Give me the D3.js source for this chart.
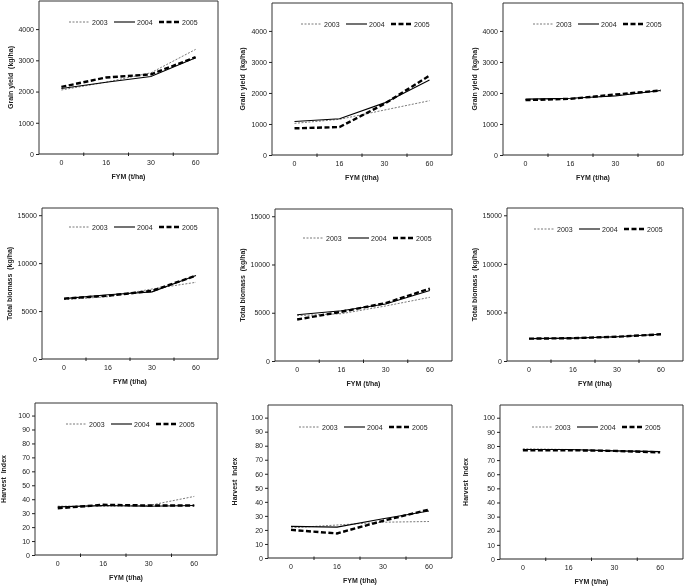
<!DOCTYPE html>
<html><head><meta charset="utf-8">
<script src="https://cdn.jsdelivr.net/npm/d3@7/dist/d3.min.js"></script>
<style>
body{margin:0;background:#fff;}
svg{will-change:transform;}
svg text{font-family:"Liberation Sans",Arial,sans-serif;white-space:pre;}
</style></head>
<body>
<svg id="c" width="685" height="587"></svg>
<script>
// ---- data ----
const categories = ["0","16","30","60"];
const years = ["2003","2004","2005"];
const yieldTicks = [0,1000,2000,3000,4000];
const biomassTicks = [0,5000,10000,15000];
const hiTicks = [0,10,20,30,40,50,60,70,80,90,100];

// rows per panel: [2003, 2004, 2005]
const grainYieldA = [[2050,2300,2600,3350],[2100,2300,2480,3080],[2150,2450,2550,3100]];
const grainYieldB = [[1020,1150,1450,1750],[1080,1170,1680,2420],[860,900,1650,2560]];
const grainYieldC = [[1780,1820,1920,2080],[1800,1830,1900,2080],[1770,1810,1950,2080]];
const biomassA = [[6200,6500,7300,8000],[6300,6700,7000,8700],[6300,6600,7100,8700]];
const biomassB = [[4700,4900,5700,6600],[4800,5200,5900,7300],[4300,5100,6000,7500]];
const biomassC = [[2300,2350,2500,2750],[2300,2350,2500,2750],[2300,2350,2500,2750]];
const harvestA = [[35,35,35.5,42],[34.5,35.5,35,35.5],[33.5,36,35.5,35.5]];
const harvestB = [[21.5,23.5,25.5,26],[22.5,22,28,33.5],[20,17.5,26.5,34.5]];
const harvestC = [[78,77.5,76.5,76],[77.5,77.5,76.5,76],[77,77,76.5,75.5]];

// ---- layout ----
const styles = [
  {w:0.8, dash:"2,1.5", c:"#555"},
  {w:1.1, dash:null, c:"#000"},
  {w:2.4, dash:"5,2.5", c:"#000"}
];
const panels = [
  {L:39,T:1,R:218,B:154, data:grainYieldA, yMax:4900, ticks:yieldTicks, label:"Grain yield  (kg/ha)", legY:21, legX:30, labX:26},
  {L:272,T:3,R:452,B:155, data:grainYieldB, yMax:4900, ticks:yieldTicks, label:"Grain yield  (kg/ha)", legY:21, legX:29, labX:27},
  {L:503,T:3,R:683,B:155, data:grainYieldC, yMax:4900, ticks:yieldTicks, label:"Grain yield  (kg/ha)", legY:21, legX:30, labX:26},
  {L:42,T:208,R:218,B:359, data:biomassA, yMax:15750, ticks:biomassTicks, label:"Total biomass  (kg/ha)", legY:19, legX:27, labX:30},
  {L:275,T:209,R:452,B:361, data:biomassB, yMax:15750, ticks:biomassTicks, label:"Total biomass  (kg/ha)", legY:29, legX:28, labX:30},
  {L:507,T:208,R:683,B:361, data:biomassC, yMax:15750, ticks:biomassTicks, label:"Total biomass  (kg/ha)", legY:21, legX:27, labX:30},
  {L:35,T:403,R:217,B:555, data:harvestA, yMax:109, ticks:hiTicks, label:"Harvest  Index", legY:21, legX:31, labX:29},
  {L:268,T:405,R:452,B:558, data:harvestB, yMax:109, ticks:hiTicks, label:"Harvest  Index", legY:22, legX:31, labX:31},
  {L:500,T:405,R:683,B:559, data:harvestC, yMax:109, ticks:hiTicks, label:"Harvest  Index", legY:22, legX:32, labX:32}
];

const svg = d3.select("#c");
const FS = 7;

panels.forEach(p => {
  const g = svg.append("g");
  const x = d3.scaleBand().domain(categories).range([p.L, p.R]);
  const y = d3.scaleLinear().domain([0, p.yMax]).range([p.B, p.T]);

  // frame
  g.append("path")
    .attr("d", `M${p.L},${p.B}V${p.T}H${p.R}V${p.B}`)
    .attr("fill","none").attr("stroke","#333").attr("stroke-width",1);
  g.append("line").attr("x1",p.L).attr("x2",p.R).attr("y1",p.B).attr("y2",p.B)
    .attr("stroke","#222").attr("stroke-width",1);

  // y axis
  const ya = g.append("g").attr("transform",`translate(${p.L},0)`)
    .call(d3.axisLeft(y).tickValues(p.ticks).tickSize(3).tickSizeOuter(0).tickPadding(2).tickFormat(d3.format("d")));
  ya.select(".domain").remove();
  ya.selectAll("line").attr("stroke","#222");
  ya.selectAll("text").attr("font-size",FS).attr("fill","#222").attr("font-family","Liberation Sans, Arial, sans-serif");

  // x axis labels
  const xa = g.append("g").attr("transform",`translate(0,${p.B})`)
    .call(d3.axisBottom(x).tickSize(0).tickPadding(6));
  xa.select(".domain").remove();
  xa.selectAll("text").attr("font-size",FS).attr("fill","#222").attr("font-family","Liberation Sans, Arial, sans-serif");
  // x tick marks at category boundaries
  const bounds = categories.slice(1).map(c => x(c));
  g.selectAll(".xt").data(bounds).enter().append("line")
    .attr("x1",d=>d).attr("x2",d=>d).attr("y1",p.B-1.5).attr("y2",p.B+2)
    .attr("stroke","#222").attr("stroke-width",1);

  // axis titles
  g.append("text").attr("x",(p.L+p.R)/2).attr("y",p.B+25)
    .attr("text-anchor","middle").attr("font-size",FS).attr("font-weight","bold").attr("fill","#222")
    .text("FYM (t/ha)");
  g.append("text")
    .attr("transform",`translate(${p.L-p.labX},${(p.T+p.B)/2}) rotate(-90)`)
    .attr("text-anchor","middle").attr("font-size",FS).attr("font-weight","bold").attr("fill","#222")
    .text(p.label);

  // lines
  const line = d3.line().x((d,i)=>x(categories[i])+x.bandwidth()/2).y(d=>y(d));
  p.data.forEach((vals,k) => {
    const s = styles[k];
    g.append("path").datum(vals).attr("d",line)
      .attr("fill","none").attr("stroke",s.c).attr("stroke-width",s.w)
      .attr("stroke-dasharray",s.dash);
  });

  // legend
  const lx = p.L + p.legX, ly = p.T + p.legY;
  years.forEach((yr,k) => {
    const s = styles[k];
    const ox = lx + k*45;
    g.append("line").attr("x1",ox).attr("x2",ox+21).attr("y1",ly).attr("y2",ly)
      .attr("stroke",s.c).attr("stroke-width",s.w).attr("stroke-dasharray",s.dash);
    g.append("text").attr("x",ox+23).attr("y",ly+2.5).attr("font-size",FS).attr("fill","#222").text(yr);
  });
});
</script>
</body></html>
